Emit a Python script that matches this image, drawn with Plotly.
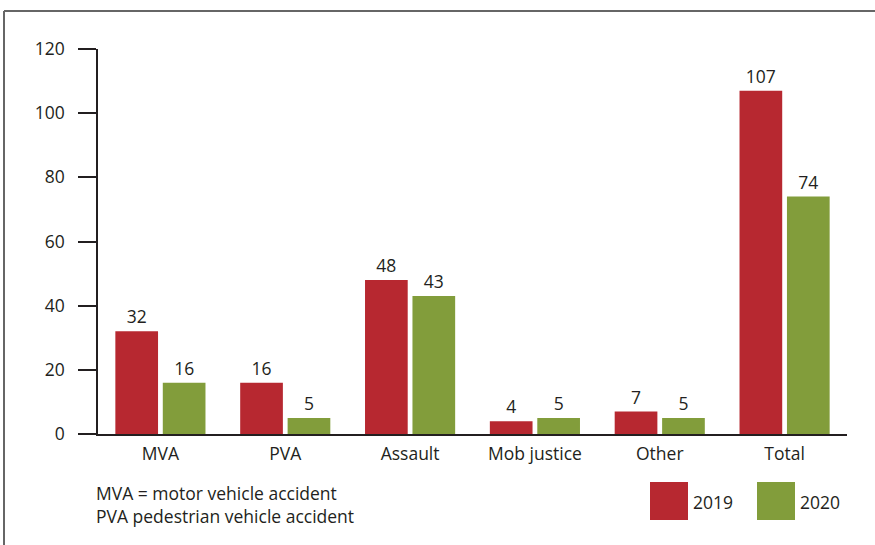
import plotly.graph_objects as go

categories = ["MVA", "PVA", "Assault", "Mob justice", "Other", "Total"]
values_2019 = [32, 16, 48, 4, 7, 107]
values_2020 = [16, 5, 43, 5, 5, 74]
y_ticks = [0, 20, 40, 60, 80, 100, 120]
series_names = ["2019", "2020"]
colors = ["#b72830", "#829d3b"]
notes = ["MVA = motor vehicle accident", "PVA pedestrian vehicle accident"]

W, H = 875, 545
L, R, T, B = 98, 28, 49, 111
FONT = "Open Sans"
FS = 17.5
TXT = "#231f20"

fig = go.Figure()
for name, vals, col in zip(series_names, [values_2019, values_2020], colors):
    fig.add_trace(go.Bar(
        x=categories, y=vals, name=name, marker=dict(color=col, line=dict(width=0)),
        text=[str(v) for v in vals], textposition="outside", cliponaxis=False,
        textfont=dict(family=FONT, size=FS, color=TXT),
    ))

fig.update_layout(
    width=W, height=H,
    margin=dict(l=L, r=R, t=T, b=B),
    paper_bgcolor="white", plot_bgcolor="white",
    barmode="group", bargap=0.24, bargroupgap=0.1,
    showlegend=False,
    font=dict(family=FONT, size=FS, color=TXT),
    xaxis=dict(showgrid=False, showline=True, linecolor=TXT, linewidth=1.5,
               ticks="", tickfont=dict(size=FS, color=TXT), ticklabelstandoff=3),
    yaxis=dict(range=[0, 120], tickvals=y_ticks, showgrid=False, zeroline=False,
               showline=True, linecolor=TXT, linewidth=1.5,
               ticks="outside", ticklen=18, tickwidth=1.5, tickcolor=TXT,
               tickfont=dict(size=FS, color=TXT), ticklabelstandoff=10),
)

def px_x(p):
    return (p - L) / (W - L - R)

def px_y(p):
    return (H - B - p) / (H - T - B)

# frame lines (left and top)
fig.add_shape(type="line", xref="paper", yref="paper", x0=px_x(4), x1=px_x(880), y0=px_y(11), y1=px_y(11),
              line=dict(color="#666666", width=2))
fig.add_shape(type="line", xref="paper", yref="paper", x0=px_x(4), x1=px_x(4), y0=px_y(11), y1=px_y(550),
              line=dict(color="#666666", width=2))

# notes
for i, t in enumerate(notes):
    fig.add_annotation(text=t, xref="paper", yref="paper", x=px_x(94), y=px_y(493 + 23 * i),
                       xanchor="left", yanchor="middle", showarrow=False,
                       font=dict(family=FONT, size=FS, color=TXT))

# legend swatches
sw = [(650, 688), (757, 795)]
for (x0, x1), name, col in zip(sw, series_names, colors):
    fig.add_shape(type="rect", xref="paper", yref="paper", x0=px_x(x0), x1=px_x(x1),
                  y0=px_y(482), y1=px_y(520), fillcolor=col, line=dict(width=0))
    fig.add_annotation(text=name, xref="paper", yref="paper", x=px_x(x1 + 3), y=px_y(502),
                       xanchor="left", yanchor="middle", showarrow=False,
                       font=dict(family=FONT, size=FS, color=TXT))

fig.write_html("out.html", config={"displayModeBar": False},
               post_script="document.body.style.margin='0';")
